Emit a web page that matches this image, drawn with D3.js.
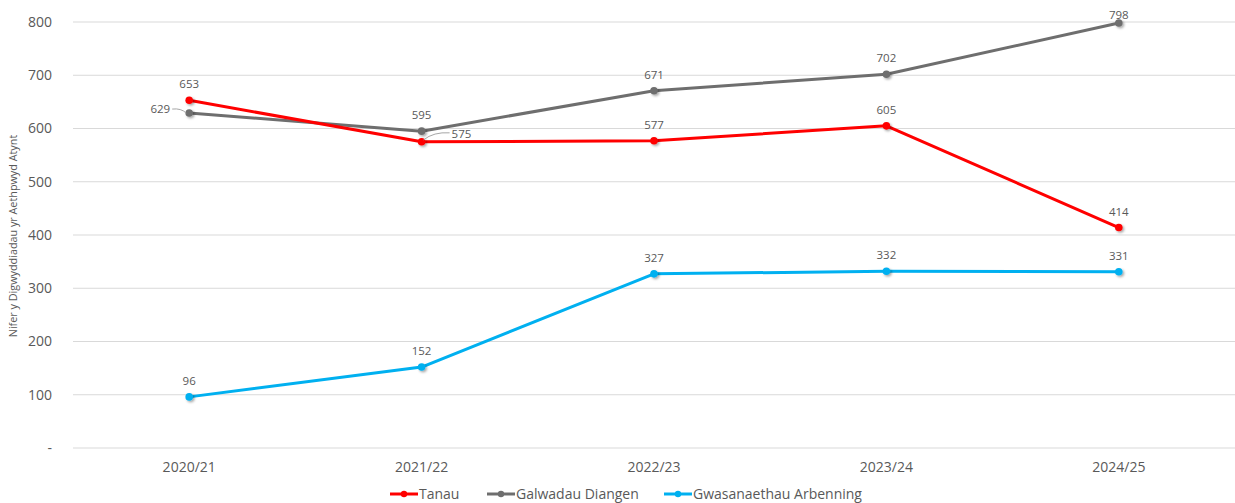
<!DOCTYPE html>
<html>
<head>
<meta charset="utf-8">
<script src="https://cdn.jsdelivr.net/npm/d3@7"></script>
<style>
  body { margin: 0; background: #fff; }
  text { font-family: "Open Sans", sans-serif; }
</style>
</head>
<body>
<div id="wrapper"></div>
<script>
var years = ["2020/21", "2021/22", "2022/23", "2023/24", "2024/25"]
var tanau = [653, 575, 577, 605, 414]
var galwadau = [629, 595, 671, 702, 798]
var gwasanaethau = [96, 152, 327, 332, 331]
var yTicks = [0, 100, 200, 300, 400, 500, 600, 700, 800]

// label placement per point: "above", "left", "right"
var series = [
    {name: "Galwadau Diangen", values: galwadau, color: "#6e6e6e", pos: ["left", "above", "above", "above", "above"]},
    {name: "Tanau", values: tanau, color: "#ff0000", pos: ["above", "right", "above", "above", "above"]},
    {name: "Gwasanaethau Arbenning", values: gwasanaethau, color: "#00b0f0", pos: ["above", "above", "above", "above", "above"]}
]
var legendOrder = ["Tanau", "Galwadau Diangen", "Gwasanaethau Arbenning"]

var dimension = {
    width: 1235,
    height: 503,
    margin: {top: 22, right: 0, bottom: 55, left: 73}
}
dimension.boundedWidth = dimension.width - dimension.margin.left - dimension.margin.right
dimension.boundedHeight = dimension.height - dimension.margin.top - dimension.margin.bottom

var svg = d3.select("#wrapper")
    .append("svg")
    .attr("width", dimension.width)
    .attr("height", dimension.height)

var defs = svg.append("defs")
var shadow = defs.append("filter").attr("id", "shadow")
    .attr("x", "-100%").attr("y", "-100%").attr("width", "300%").attr("height", "300%")
shadow.append("feDropShadow")
    .attr("dx", 1.5).attr("dy", 1.5).attr("stdDeviation", 1.2)
    .attr("flood-color", "#000").attr("flood-opacity", 0.35)

var g = svg.append("g")
    .attr("transform", `translate(${dimension.margin.left},${dimension.margin.top})`)

var x = d3.scaleBand()
    .domain(years)
    .range([0, dimension.boundedWidth])

var y = d3.scaleLinear()
    .domain([0, 800])
    .range([dimension.boundedHeight, 0])

// gridlines
g.append("g")
    .selectAll("line")
    .data(yTicks)
    .enter()
    .append("line")
    .attr("x1", 0)
    .attr("x2", dimension.boundedWidth)
    .attr("y1", d => y(d))
    .attr("y2", d => y(d))
    .style("stroke", "#d9d9d9")
    .style("stroke-width", 1.2)

// y axis
var yAxis = g.append("g")
    .attr("transform", "translate(-18,0)")
    .call(d3.axisLeft(y).tickValues(yTicks).tickSize(0).tickFormat(d => d == 0 ? "-" : d))
yAxis.select(".domain").remove()
yAxis.selectAll("text")
    .style("font-size", "14px")
    .style("fill", "#595959")

// x axis
var xAxis = g.append("g")
    .attr("transform", `translate(0,${dimension.boundedHeight + 11})`)
    .call(d3.axisBottom(x).tickSize(0))
xAxis.select(".domain").remove()
xAxis.selectAll("text")
    .style("font-size", "14px")
    .style("fill", "#595959")

// y axis title
svg.append("text")
    .attr("transform", "translate(17,236) rotate(-90)")
    .attr("text-anchor", "middle")
    .style("font-size", "10.8px")
    .style("fill", "#595959")
    .text("Nifer y Digwyddiadau yr Aethpwyd Atynt")

var line = d3.line()
    .x((d, i) => x(years[i]) + x.bandwidth() / 2)
    .y(d => y(d))

series.forEach(s => {
    g.append("path")
        .datum(s.values)
        .attr("d", line)
        .style("fill", "none")
        .style("stroke", s.color)
        .style("stroke-width", 3)
        .style("stroke-linejoin", "round")
})

series.forEach(s => {
    g.append("g")
        .selectAll("circle")
        .data(s.values)
        .enter()
        .append("circle")
        .attr("cx", (d, i) => x(years[i]) + x.bandwidth() / 2)
        .attr("cy", d => y(d))
        .attr("r", 3.8)
        .style("fill", s.color)
        .attr("filter", "url(#shadow)")
})

// data labels
series.forEach(s => {
    s.values.forEach((v, i) => {
        var cx = x(years[i]) + x.bandwidth() / 2
        var cy = y(v)
        var p = s.pos[i]
        var lx = cx, ly = Math.max(cy - 12, -3), anchor = "middle"
        if (p == "left") {
            lx = cx - 19; ly = cy + 0; anchor = "end"
            g.append("path")
                .attr("d", `M${cx - 17},${cy - 4} Q${cx - 8},${cy - 5} ${cx - 3},${cy}`)
                .style("fill", "none").style("stroke", "#a6a6a6").style("stroke-width", 1)
        }
        if (p == "right") {
            lx = cx + 30; ly = cy - 4; anchor = "start"
            g.append("path")
                .attr("d", `M${cx + 2},${cy - 2} Q${cx + 12},${cy - 10} ${cx + 28},${cy - 9}`)
                .style("fill", "none").style("stroke", "#a6a6a6").style("stroke-width", 1)
        }
        g.append("text")
            .attr("x", lx)
            .attr("y", ly)
            .attr("text-anchor", anchor)
            .style("font-size", "11.5px")
            .style("fill", "#595959")
            .text(v)
    })
})

// legend
var legendX = [390, 487, 664]
var legend = svg.append("g")
    .attr("transform", "translate(0,494)")
legendOrder.forEach((name, i) => {
    var s = series.find(d => d.name == name)
    var item = legend.append("g").attr("transform", `translate(${legendX[i]},0)`)
    item.append("line")
        .attr("x1", 0).attr("x2", 28)
        .style("stroke", s.color).style("stroke-width", 3)
    item.append("circle")
        .attr("cx", 14).attr("r", 3.2)
        .style("fill", s.color)
    item.append("text")
        .attr("x", 29)
        .attr("y", 5)
        .style("font-size", "14px")
        .style("fill", "#595959")
        .text(name)
})
</script>
</body>
</html>
